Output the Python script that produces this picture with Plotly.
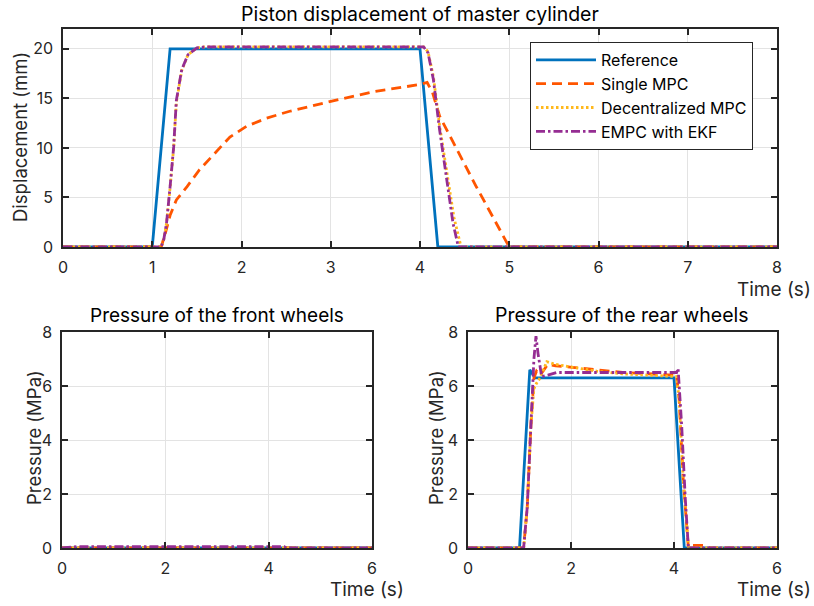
import plotly.graph_objects as go

W, H = 814, 606

# ---------- data: top plot (displacement, mm) ----------
t_ref = [0, 1.0, 1.2, 4.0, 4.2, 8]
d_ref = [0, 0, 20, 20, 0, 0]

t_smpc = [0, 1.1, 1.15, 1.2, 1.27, 1.39, 1.53, 1.68, 1.87, 2.06, 2.28, 2.54, 3.0, 3.5, 4.0, 4.08, 4.14, 4.22, 4.63, 5.0, 8]
d_smpc = [0, 0, 1.5, 3.2, 4.75, 6.1, 7.8, 9.3, 11.1, 12.2, 13.0, 13.7, 14.7, 15.7, 16.4, 16.6, 15.6, 13.2, 6.1, 0, 0]

t_dmpc = [0, 1.1, 1.13, 1.16, 1.2, 1.24, 1.27, 1.33, 1.40, 1.50, 1.6, 4.04, 4.09, 4.15, 4.22, 4.30, 4.38, 4.46, 8]
d_dmpc = [0, 0, 0.8, 2.4, 6.0, 10.0, 14.6, 17.8, 19.4, 20.1, 20.2, 20.2, 19.7, 17.2, 12.2, 7.4, 3.0, 0, 0]

t_empc = [0, 1.1, 1.13, 1.16, 1.2, 1.24, 1.27, 1.33, 1.40, 1.50, 1.6, 4.04, 4.09, 4.15, 4.22, 4.30, 4.37, 4.43, 8]
d_empc = [0, 0, 0.8, 2.4, 6.1, 10.1, 14.8, 17.9, 19.4, 20.1, 20.2, 20.2, 19.6, 16.9, 11.8, 6.8, 2.4, 0, 0]

# ---------- data: front wheels pressure (MPa) ----------
tf_ref = [0, 6]
pf_ref = [0, 0]
tf_smpc = [0, 6]
pf_smpc = [0, 0]
tf_dmpc = [0, 6]
pf_dmpc = [0, 0]
tf_empc = [0, 0.3, 4.3, 4.35, 6]
pf_empc = [0, 0.05, 0.05, 0, 0]

# ---------- data: rear wheels pressure (MPa) ----------
tr_ref = [0, 1.0, 1.2, 1.3, 4.0, 4.2, 6]
pr_ref = [0, 0, 6.6, 6.3, 6.3, 0, 0]

tr_smpc = [0, 1.08, 1.15, 1.22, 1.28, 1.33, 1.4, 1.55, 1.7, 2.0, 2.5, 3.0, 3.5, 4.0, 4.05, 4.1, 4.18, 4.28, 4.35, 4.6, 4.7, 6]
pr_smpc = [0, 0, 1.5, 4.5, 6.3, 6.55, 6.4, 6.8, 6.75, 6.7, 6.6, 6.5, 6.45, 6.4, 6.4, 5.5, 2.5, 0, 0.1, 0.1, 0, 0]

tr_dmpc = [0, 1.08, 1.15, 1.22, 1.28, 1.33, 1.4, 1.53, 1.7, 2.0, 2.5, 3.0, 3.5, 4.0, 4.05, 4.1, 4.18, 4.28, 6]
pr_dmpc = [0, 0, 1.5, 4.5, 5.9, 6.1, 6.3, 6.9, 6.8, 6.7, 6.55, 6.45, 6.4, 6.35, 6.35, 5.5, 2.5, 0, 0]

tr_empc = [0, 1.08, 1.15, 1.22, 1.28, 1.32, 1.36, 1.43, 1.55, 1.72, 2.0, 3.0, 4.0, 4.05, 4.08, 4.15, 4.22, 4.28, 6]
pr_empc = [0, 0, 1.5, 4.5, 7.0, 7.85, 7.2, 6.35, 6.4, 6.5, 6.5, 6.5, 6.5, 6.5, 6.65, 4.5, 1.8, 0, 0]

names = ["Reference", "Single MPC", "Decentralized MPC", "EMPC with EKF"]
colors = ["#0072BD", "#FF5500", "#FFB81C", "#952D92"]
dashes = ["solid", "10px,6px", "2.5px,2.5px", "9px,3px,2.5px,3px"]
LW = 2.8

FONT = "Inter, Liberation Sans, Arial, sans-serif"
TXT = "#262626"
TICK = 16
LAB = 18.5

fig = go.Figure()

sets = [
    ("x", "y", [(t_ref, d_ref), (t_smpc, d_smpc), (t_dmpc, d_dmpc), (t_empc, d_empc)], True),
    ("x2", "y2", [(tf_ref, pf_ref), (tf_smpc, pf_smpc), (tf_dmpc, pf_dmpc), (tf_empc, pf_empc)], False),
    ("x3", "y3", [(tr_ref, pr_ref), (tr_smpc, pr_smpc), (tr_dmpc, pr_dmpc), (tr_empc, pr_empc)], False),
]
for xa, ya, series, leg in sets:
    for i, (tx, ty) in enumerate(series):
        fig.add_trace(go.Scatter(
            x=tx, y=ty, mode="lines", name=names[i], showlegend=leg,
            xaxis=xa, yaxis=ya,
            line=dict(color=colors[i], width=LW, dash=dashes[i]),
        ))

def px_x(a, b):
    return [a / W, b / W]

def px_y(top, bottom):
    return [1 - bottom / H, 1 - top / H]

axis_common = dict(
    showline=True, linecolor=TXT, linewidth=1.5, mirror="allticks",
    ticks="inside", ticklen=6, tickwidth=1.5, tickcolor=TXT,
    showgrid=True, gridcolor="#E3E3E3", gridwidth=1, zeroline=False,
    tickfont=dict(family=FONT, size=TICK, color=TXT),
    automargin=False,
)
xax = dict(axis_common, ticklabelstandoff=5)
yax = dict(axis_common, ticklabelstandoff=5)

fig.update_layout(
    width=W, height=H, autosize=False,
    margin=dict(l=0, r=0, t=0, b=0, pad=0, autoexpand=False),
    paper_bgcolor="white", plot_bgcolor="white",
    font=dict(family=FONT, color=TXT),
    xaxis=dict(domain=px_x(63, 777), range=[0, 8], dtick=1, anchor="y", **xax),
    yaxis=dict(domain=px_y(29, 247), range=[0, 22], tickvals=[0, 5, 10, 15, 20], anchor="x", **yax),
    xaxis2=dict(domain=px_x(62, 372), range=[0, 6], dtick=2, anchor="y2", **xax),
    yaxis2=dict(domain=px_y(332, 548), range=[0, 8], dtick=2, anchor="x2", **yax),
    xaxis3=dict(domain=px_x(468, 777), range=[0, 6], dtick=2, anchor="y3", **xax),
    yaxis3=dict(domain=px_y(332, 548), range=[0, 8], dtick=2, anchor="x3", **yax),
    legend=dict(
        x=530 / W, y=1 - 42 / H, xanchor="left", yanchor="top",
        bgcolor="white", bordercolor="#262626", borderwidth=1,
        font=dict(family=FONT, size=16, color="black"),
        tracegroupgap=0, itemwidth=60,
    ),
)

def ann(text, x, y, size=LAB, xanchor="center", angle=0, color="black"):
    fig.add_annotation(
        text=text, x=x / W, y=1 - y / H, xref="paper", yref="paper",
        xanchor=xanchor, yanchor="middle", showarrow=False, textangle=angle,
        font=dict(family=FONT, size=size, color=color),
    )

ann("Piston displacement of master cylinder", 420, 14, size=19.5)
ann("Time (s)", 813, 289, size=19, xanchor="right", color=TXT)
ann("Displacement (mm)", 20, 137, angle=-90, color=TXT)
ann("Pressure of the front wheels", 217, 315, size=19)
ann("Pressure of the rear wheels", 622, 315, size=19.5)
ann("Pressure (MPa)", 34, 438, angle=-90, color=TXT)
ann("Pressure (MPa)", 436, 438, angle=-90, color=TXT)
ann("Time (s)", 406, 589, size=19, xanchor="right", color=TXT)
ann("Time (s)", 813, 589, size=19, xanchor="right", color=TXT)

fig.write_html("out.html")
